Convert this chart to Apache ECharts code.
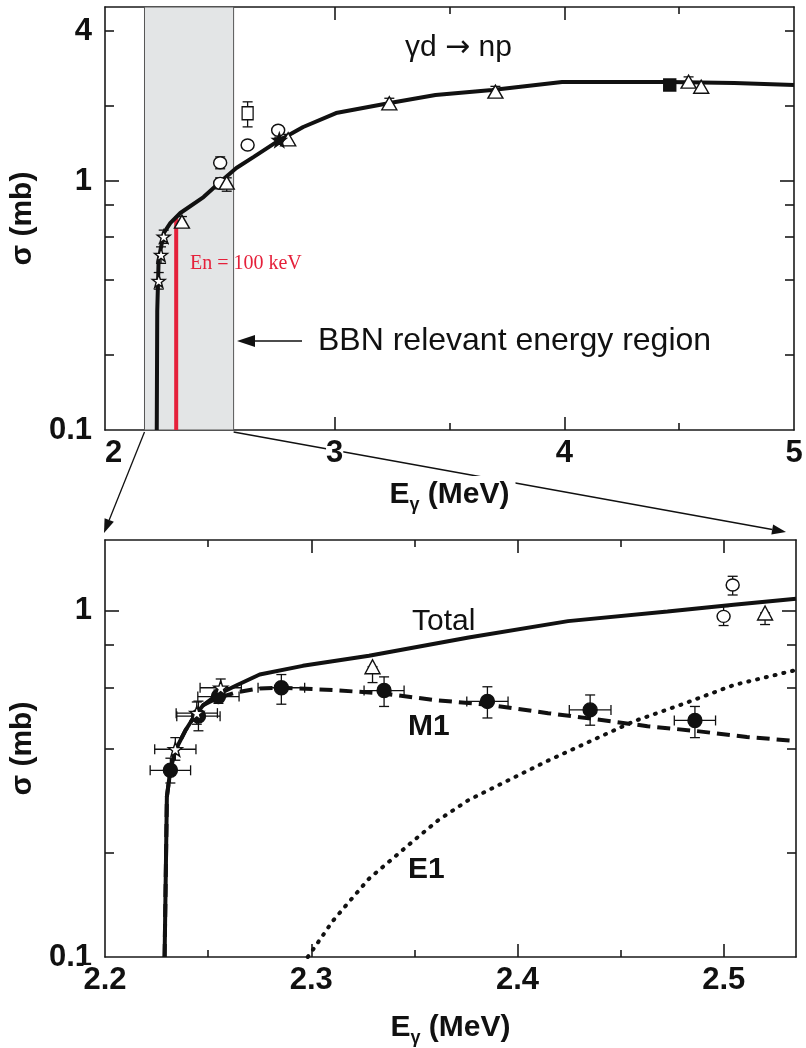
<!DOCTYPE html>
<html><head><meta charset="utf-8">
<script src="https://cdn.jsdelivr.net/npm/echarts@6/dist/echarts.min.js"></script>
<style>html,body{margin:0;padding:0;background:#fff}#c{width:806px;height:1048px}</style>
</head><body><div id="c"></div>
<script>
// ===================== DATA =====================
// ---- Top panel: overview, Eγ 2..5 MeV ----
const topXMajor = [3, 4];
const topXMinor = [2.5, 3.5, 4.5];
const topXLabels = [2, 3, 4, 5];
const topYMajor = [1];
const topYMinor = [0.2, 0.4, 0.6, 0.8, 2, 4];
const topYLabels = [0.1, 1, 4];

const topCurveE = [2.2254, 2.2275, 2.2335, 2.2557, 2.285, 2.328, 2.429, 2.5015, 2.572, 2.646, 2.746, 2.863, 3.006, 3.240, 3.439, 3.686, 3.99, 4.453, 4.74, 5.0];
const topCurveS = [0.1, 0.30, 0.482, 0.618, 0.679, 0.744, 0.862, 0.991, 1.128, 1.248, 1.434, 1.648, 1.875, 2.057, 2.215, 2.319, 2.50, 2.50, 2.475, 2.43];

const shadeE = [2.172, 2.56];          // BBN relevant energy region
const redLineE = [2.31, 2.31];         // En = 100 keV
const redLineS = [0.1, 0.72];

// top markers: value, low, high
const topStarE  = [2.234, 2.244, 2.2557];
const topStarS  = [0.397, 0.505, 0.598];
const topStarLo = [0.368, 0.467, 0.562];
const topStarHi = [0.429, 0.544, 0.635];

const topTriE  = [2.335, 2.530, 2.7976, 3.238, 3.70, 4.541, 4.596];
const topTriS  = [0.687, 0.985, 1.471, 2.052, 2.285, 2.506, 2.392];
const topTriLo = [0.66, 0.91, 1.40, 1.95, 2.17, 2.40, 2.28];
const topTriHi = [0.72, 1.03, 1.54, 2.15, 2.40, 2.62, 2.50];

const topCircE  = [2.5015, 2.5015, 2.621, 2.754];
const topCircS  = [1.184, 0.979, 1.395, 1.60];
const topCircLo = [1.12, 0.93, 1.395, 1.55];
const topCircHi = [1.25, 1.03, 1.395, 1.66];

const topSqE = [2.621], topSqS = [1.87], topSqLo = [1.65], topSqHi = [2.08];
const topFStarE = [2.759], topFStarS = [1.461], topFStarLo = [1.43], topFStarHi = [1.50];
const topFSqE = [4.459], topFSqS = [2.43], topFSqLo = [2.33], topFSqHi = [2.53];

// ---- Bottom panel: zoom, Eγ 2.2..2.535 MeV ----
const botXMajor = [2.3, 2.4, 2.5];
const botXMinor = [2.25, 2.35, 2.45];
const botXLabels = [2.2, 2.3, 2.4, 2.5];
const botYMajor = [1];
const botYMinor = [0.2, 0.4, 0.6, 0.8];
const botYLabels = [0.1, 1];

const totalE = [2.2289, 2.2300, 2.2317, 2.2341, 2.2389, 2.2437, 2.2477, 2.254, 2.2636, 2.275, 2.2959, 2.328, 2.3763, 2.4245, 2.4727, 2.5048, 2.535];
const totalS = [0.1, 0.290, 0.347, 0.395, 0.450, 0.500, 0.534, 0.570, 0.608, 0.654, 0.693, 0.741, 0.837, 0.933, 0.995, 1.040, 1.082];

const m1E = [2.2289, 2.2300, 2.2317, 2.2341, 2.2389, 2.2437, 2.2477, 2.254, 2.2636, 2.2747, 2.2863, 2.3104, 2.3345, 2.3586, 2.3859, 2.4148, 2.4389, 2.463, 2.4871, 2.5112, 2.5337];
const m1S = [0.1, 0.290, 0.347, 0.395, 0.450, 0.500, 0.534, 0.558, 0.581, 0.5965, 0.599, 0.590, 0.577, 0.553, 0.535, 0.506, 0.485, 0.464, 0.449, 0.432, 0.421];

const e1E = [2.2983, 2.3016, 2.3104, 2.3184, 2.3281, 2.3393, 2.3505, 2.3618, 2.3763, 2.3956, 2.4148, 2.4357, 2.4566, 2.4792, 2.5048, 2.5345];
const e1S = [0.1, 0.1066, 0.127, 0.1445, 0.1686, 0.192, 0.219, 0.249, 0.284, 0.324, 0.369, 0.421, 0.480, 0.535, 0.610, 0.673];

const botDotE  = [2.2317, 2.2453, 2.255, 2.2855, 2.3353, 2.3854, 2.4352, 2.486];
const botDotS  = [0.346, 0.496, 0.565, 0.599, 0.588, 0.547, 0.517, 0.482];
const botDotLo = [0.318, 0.450, 0.540, 0.537, 0.529, 0.490, 0.467, 0.430];
const botDotHi = [0.375, 0.548, 0.590, 0.654, 0.644, 0.603, 0.571, 0.529];
const botDotEErr = [0.0098, 0.0105, 0.010, 0.0113, 0.0097, 0.010, 0.0101, 0.010];

const botStarE  = [2.2341, 2.2445, 2.2561];
const botStarS  = [0.398, 0.506, 0.599];
const botStarLo = [0.370, 0.470, 0.565];
const botStarHi = [0.430, 0.545, 0.635];
const botStarEErr = [0.010, 0.010, 0.010];

const botTriE = [2.3297, 2.52], botTriS = [0.689, 0.985], botTriLo = [0.62, 0.912], botTriHi = [0.689, 0.985];
const botCircE = [2.5043, 2.4999], botCircS = [1.186, 0.963], botCircLo = [1.11, 0.906], botCircHi = [1.257, 1.028];

// ===================== HELPERS =====================
const FONT = '"Liberation Sans", Arial, Helvetica, sans-serif';
const AX = '#1a1a1a';
const STAR = 'path://M50 0L61.76 33.82L97.55 34.55L69.02 56.18L79.39 90.45L50 70L20.61 90.45L30.98 56.18L2.45 34.55L38.24 33.82Z';

function zip(a, b) { return a.map((v, i) => [v, b[i]]); }
function errRows(E, S, lo, hi, eErr) {
  return E.map((e, i) => [e, S[i], lo[i], hi[i], eErr ? e - eErr[i] : e, eErr ? e + eErr[i] : e]);
}
function fmt(v) { return String(Math.round(v * 1000) / 1000); }

function errRender(params, api) {
  const x = api.value(0), y = api.value(1), lo = api.value(2), hi = api.value(3), xl = api.value(4), xh = api.value(5);
  const c = api.coord([x, y]);
  const st = { stroke: '#111', lineWidth: 1.3, fill: null };
  const ch = [];
  const cap = 5;
  if (hi > lo) {
    const pl = api.coord([x, lo]), ph = api.coord([x, hi]);
    ch.push({ type: 'line', shape: { x1: c[0], y1: pl[1], x2: c[0], y2: ph[1] }, style: st });
    ch.push({ type: 'line', shape: { x1: c[0] - cap, y1: pl[1], x2: c[0] + cap, y2: pl[1] }, style: st });
    ch.push({ type: 'line', shape: { x1: c[0] - cap, y1: ph[1], x2: c[0] + cap, y2: ph[1] }, style: st });
  }
  if (xh > xl) {
    const ql = api.coord([xl, y]), qh = api.coord([xh, y]);
    ch.push({ type: 'line', shape: { x1: ql[0], y1: c[1], x2: qh[0], y2: c[1] }, style: st });
    ch.push({ type: 'line', shape: { x1: ql[0], y1: c[1] - cap, x2: ql[0], y2: c[1] + cap }, style: st });
    ch.push({ type: 'line', shape: { x1: qh[0], y1: c[1] - cap, x2: qh[0], y2: c[1] + cap }, style: st });
  }
  return { type: 'group', children: ch };
}

const xNameRich = {
  n: { fontSize: 30, fontWeight: 'bold', fontFamily: FONT, color: '#111', lineHeight: 38 },
  s: { fontSize: 18, fontWeight: 'bold', fontFamily: FONT, color: '#111', lineHeight: 38, verticalAlign: 'bottom' }
};
const labelStyle = { fontSize: 31, fontWeight: 'bold', fontFamily: FONT, color: '#111' };

function xAxes(g, min, max, majors, minors, labels, nameGap, alignEnds) {
  const lineOn = { show: true, lineStyle: { color: AX, width: 1.6 } };
  const tick = (vals, len) => ({ show: true, inside: true, length: len, customValues: vals, lineStyle: { color: AX, width: 1.6 } });
  const base = { gridIndex: g, type: 'value', min, max, splitLine: { show: false } };
  const lab = Object.assign({ show: true, customValues: labels, margin: 8, formatter: fmt, backgroundColor: '#fff' }, labelStyle);
  if (alignEnds) { lab.alignMinLabel = 'left'; }
  return [
    Object.assign({}, base, { position: 'bottom', axisLine: lineOn, axisTick: tick(majors, 13), axisLabel: lab,
      name: '{n|E}{s|γ}{n| (MeV)}', nameLocation: 'middle', nameGap,
      nameTextStyle: { backgroundColor: '#fff', padding: [0, 6], rich: xNameRich } }),
    Object.assign({}, base, { position: 'bottom', axisLine: { show: false }, axisTick: tick(minors, 7), axisLabel: { show: false } }),
    Object.assign({}, base, { position: 'top', axisLine: lineOn, axisTick: tick(majors, 13), axisLabel: { show: false } }),
    Object.assign({}, base, { position: 'top', axisLine: { show: false }, axisTick: tick(minors, 7), axisLabel: { show: false } })
  ];
}
function yAxes(g, min, max, majors, minors, labels) {
  const lineOn = { show: true, lineStyle: { color: AX, width: 1.6 } };
  const tick = (vals, len) => ({ show: true, inside: true, length: len, customValues: vals, lineStyle: { color: AX, width: 1.6 } });
  const base = { gridIndex: g, type: 'log', logBase: 10, min, max, splitLine: { show: false } };
  return [
    Object.assign({}, base, { position: 'left', axisLine: lineOn, axisTick: tick(majors, 14),
      axisLabel: Object.assign({ show: true, customValues: labels, margin: 13, formatter: fmt }, labelStyle),
      name: 'σ (mb)', nameLocation: 'middle', nameGap: 48, nameRotate: 90,
      nameTextStyle: { fontSize: 30, fontWeight: 'bold', fontFamily: FONT, color: '#111' } }),
    Object.assign({}, base, { position: 'left', axisLine: { show: false }, axisTick: tick(minors, 9), axisLabel: { show: false } }),
    Object.assign({}, base, { position: 'right', axisLine: lineOn, axisTick: tick(majors, 14), axisLabel: { show: false } }),
    Object.assign({}, base, { position: 'right', axisLine: { show: false }, axisTick: tick(minors, 9), axisLabel: { show: false } })
  ];
}

function scatter(xi, yi, data, symbol, size, filled) {
  return { type: 'scatter', xAxisIndex: xi, yAxisIndex: yi, data, symbol, symbolSize: size, z: 5,
    itemStyle: { color: filled ? '#111' : '#fff', borderColor: '#111', borderWidth: 1.4, opacity: 1 },
    emphasis: { disabled: true }, silent: true };
}
function errSeries(xi, yi, rows) {
  return { type: 'custom', xAxisIndex: xi, yAxisIndex: yi, data: rows, renderItem: errRender, z: 4, silent: true, clip: true };
}

// ===================== OPTION =====================
const option = {
  animation: false,
  backgroundColor: '#fff',
  grid: [
    { left: 101, right: 12, top: 7, height: 423 },
    { left: 101, right: 10, top: 540, height: 423 }
  ],
  xAxis: [].concat(
    xAxes(0, 2, 5, topXMajor, topXMinor, topXLabels, 46, true),
    xAxes(1, 2.2, 2.535, botXMajor, botXMinor, botXLabels, 52, false)
  ),
  yAxis: [].concat(
    yAxes(0, 0.1, 5, topYMajor, topYMinor, topYLabels),
    yAxes(1, 0.1, 1.6, botYMajor, botYMinor, botYLabels)
  ),
  series: [
    // ---- top panel ----
    { type: 'line', xAxisIndex: 0, yAxisIndex: 0, data: zip(topCurveE, topCurveS), showSymbol: false, symbol: 'none',
      lineStyle: { color: '#111', width: 4 }, z: 3, silent: true,
      markArea: { silent: true, itemStyle: { color: '#e3e5e6', borderColor: '#555', borderWidth: 1 },
        data: [[{ xAxis: shadeE[0] }, { xAxis: shadeE[1] }]] } },
    { type: 'line', xAxisIndex: 0, yAxisIndex: 0, data: zip(redLineE, redLineS), showSymbol: false, symbol: 'none',
      lineStyle: { color: '#e5203a', width: 4 }, z: 2, silent: true },
    errSeries(0, 0, [].concat(
      errRows(topStarE, topStarS, topStarLo, topStarHi),
      errRows(topTriE, topTriS, topTriLo, topTriHi),
      errRows(topCircE, topCircS, topCircLo, topCircHi),
      errRows(topSqE, topSqS, topSqLo, topSqHi),
      errRows(topFStarE, topFStarS, topFStarLo, topFStarHi),
      errRows(topFSqE, topFSqS, topFSqLo, topFSqHi))),
    scatter(0, 0, zip(topCircE, topCircS), 'circle', [13, 12], false),
    scatter(0, 0, zip(topSqE, topSqS), 'rect', [11, 13], false),
    scatter(0, 0, zip(topTriE, topTriS), 'triangle', [15, 13], false),
    scatter(0, 0, zip(topStarE, topStarS), STAR, 13, false),
    scatter(0, 0, zip(topFStarE, topFStarS), STAR, 14, true),
    scatter(0, 0, zip(topFSqE, topFSqS), 'rect', [12, 12], true),
    // ---- bottom panel ----
    { type: 'line', xAxisIndex: 4, yAxisIndex: 4, data: zip(totalE, totalS), showSymbol: false, symbol: 'none',
      lineStyle: { color: '#111', width: 4 }, z: 3, silent: true },
    { type: 'line', xAxisIndex: 4, yAxisIndex: 4, data: zip(m1E, m1S), showSymbol: false, symbol: 'none',
      lineStyle: { color: '#111', width: 4, type: [13, 7] }, z: 3, silent: true },
    { type: 'line', xAxisIndex: 4, yAxisIndex: 4, data: zip(e1E, e1S), showSymbol: false, symbol: 'none',
      lineStyle: { color: '#111', width: 4, type: [1, 8], cap: 'round' }, z: 3, silent: true },
    errSeries(4, 4, [].concat(
      errRows(botDotE, botDotS, botDotLo, botDotHi, botDotEErr),
      errRows(botStarE, botStarS, botStarLo, botStarHi, botStarEErr),
      errRows(botTriE, botTriS, botTriLo, botTriHi),
      errRows(botCircE, botCircS, botCircLo, botCircHi))),
    scatter(4, 4, zip(botDotE, botDotS), 'circle', 14, true),
    scatter(4, 4, zip(botStarE, botStarS), STAR, 14, false),
    scatter(4, 4, zip(botTriE, botTriS), 'triangle', [15, 14], false),
    scatter(4, 4, zip(botCircE, botCircS), 'circle', [13, 12], false)
  ]
};

const chart = echarts.init(document.getElementById('c'));
chart.setOption(option);

// ===================== ANNOTATIONS =====================
function arrowEls(x1, y1, x2, y2, head, w, lw, z) {
  const dx = x2 - x1, dy = y2 - y1, L = Math.hypot(dx, dy), ux = dx / L, uy = dy / L;
  const bx = x2 - ux * head, by = y2 - uy * head;
  return [
    { type: 'line', z, shape: { x1, y1, x2: bx, y2: by }, style: { stroke: '#111', lineWidth: lw } },
    { type: 'polygon', z, shape: { points: [[x2, y2], [bx - uy * w, by + ux * w], [bx + uy * w, by - ux * w]] }, style: { fill: '#111' } }
  ];
}
const tl = chart.convertToPixel({ xAxisIndex: 0, yAxisIndex: 0 }, [shadeE[0], 0.1]);
const tr = chart.convertToPixel({ xAxisIndex: 0, yAxisIndex: 0 }, [shadeE[1], 0.1]);
const bl = chart.convertToPixel({ xAxisIndex: 4, yAxisIndex: 4 }, [2.2, 1.6]);
const br = chart.convertToPixel({ xAxisIndex: 4, yAxisIndex: 4 }, [2.535, 1.6]);

function txt(x, y, text, font, fill, extra) {
  return { type: 'text', x, y, z: 100, style: Object.assign({ text, font, fill, align: 'left', verticalAlign: 'middle' }, extra || {}) };
}

const graphics = [].concat(
  arrowEls(tl[0], tl[1] + 2, bl[0] - 1, bl[1] - 7, 14, 5, 1.3, -1),
  arrowEls(tr[0], tr[1] + 2, br[0] - 10, br[1] - 8, 14, 5, 1.3, -1),
  arrowEls(302, 341, 237, 341, 18, 6, 1.6, 100),
  [
    txt(405, 48, '{a|γd }{b|→}{a| np}', '30px ' + FONT, '#111', {
      rich: { a: { font: '30px ' + FONT, fill: '#111' }, b: { font: '30px "DejaVu Sans", sans-serif', fill: '#111' } } }),
    txt(190, 264, 'En = 100 keV', '20px "Liberation Serif", "Times New Roman", serif', '#e5203a'),
    txt(318, 341, 'BBN relevant energy region', '32px ' + FONT, '#111'),
    txt(412, 622, 'Total', '30px ' + FONT, '#111'),
    txt(408, 727, 'M1', 'bold 30px ' + FONT, '#111'),
    txt(408, 870, 'E1', 'bold 30px ' + FONT, '#111')
  ]
);
chart.setOption({ graphic: graphics });
</script>
</body></html>
